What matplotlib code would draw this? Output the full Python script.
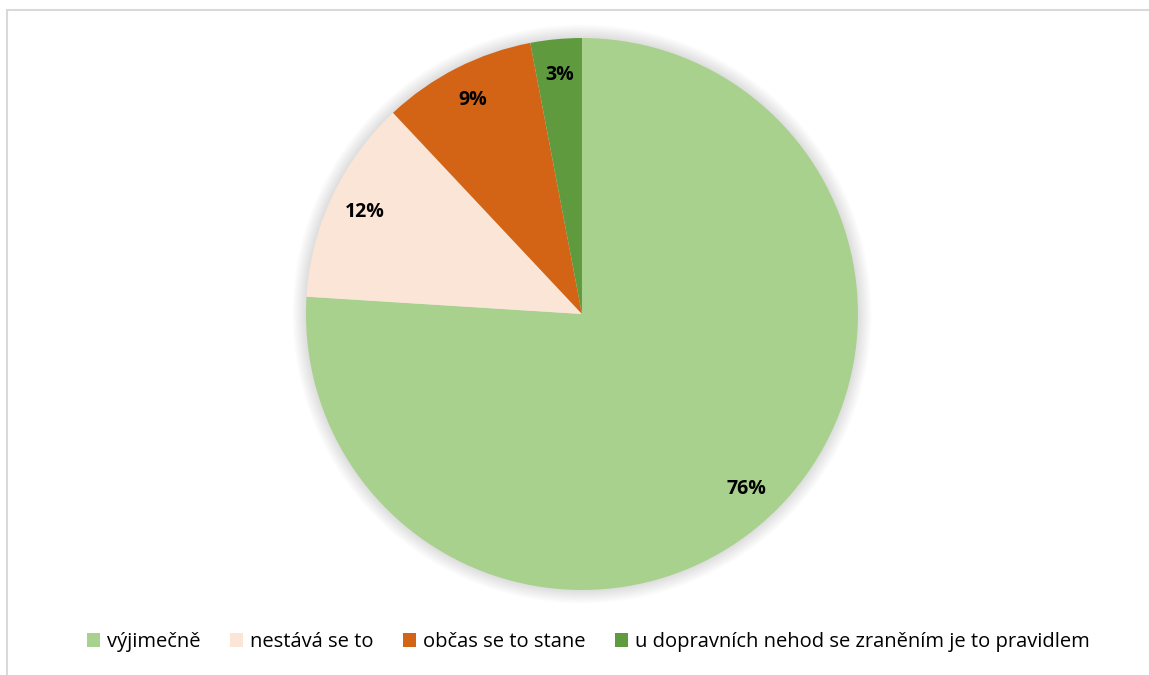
import matplotlib.pyplot as plt
from matplotlib.patches import Rectangle, Circle

labels = ["výjimečně", "nestává se to", "občas se to stane",
          "u dopravních nehod se zraněním je to pravidlem"]
values = [76, 12, 9, 3]
colors = ["#A9D18E", "#FBE5D6", "#D46415", "#5F9A3F"]

plt.rcParams["font.family"] = ["Open Sans", "DejaVu Sans"]

fig = plt.figure(figsize=(11.49, 6.75), dpi=100)

# light frame like the chart area border
fig.patches.append(Rectangle((7 / 1149, -0.05), 1.2, 1 - 9.5 / 675 + 0.05,
                             transform=fig.transFigure, fill=False,
                             edgecolor="#D9D9D9", linewidth=1.5))

ax = fig.add_axes([0.2663, 0.1259, 0.4804, 0.8178])

# soft shadow around the pie
for i in range(8):
    ax.add_patch(Circle((0, 0), 1.0 + 0.006 * (i + 1), color="#808080",
                        alpha=0.03, lw=0, zorder=0))

wedges, texts, autotexts = ax.pie(
    values, colors=colors, startangle=90, counterclock=False,
    autopct="%1.0f%%", pctdistance=0.87,
    textprops={"fontsize": 14, "fontweight": "bold", "color": "black"})
for w in wedges:
    w.set_zorder(2)
for t in autotexts:
    t.set_zorder(3)
ax.set_xlim(-1.05, 1.05)
ax.set_ylim(-1.05, 1.05)
ax.set_aspect("equal")
ax.set_position([0.2663 - 0.4804 * 0.025, 0.1259 - 0.8178 * 0.025,
                 0.4804 * 1.05, 0.8178 * 1.05])

fig.legend(wedges, labels, loc="center", bbox_to_anchor=(0.512, 0.049),
           ncol=4, frameon=False, fontsize=14.5, handlelength=0.65,
           handleheight=0.65, handletextpad=0.35, columnspacing=1.45)

fig.savefig("out.png", dpi=100)
